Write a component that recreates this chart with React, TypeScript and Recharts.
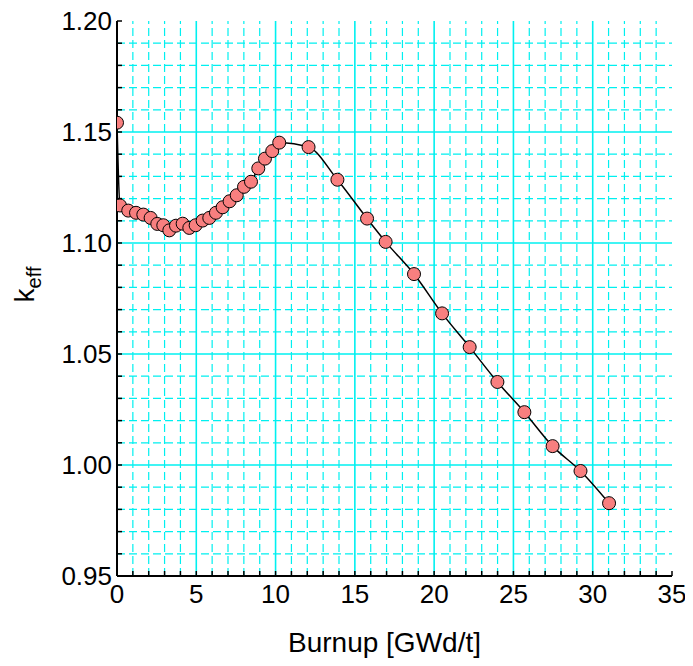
import React from "react";
import {
  LineChart,
  Line,
  XAxis,
  YAxis,
  ReferenceLine,
  Label,
} from "recharts";

const burnup = [
  0, 0.19, 0.71, 1.2, 1.66, 2.12, 2.54, 2.92, 3.3, 3.72, 4.14, 4.56, 4.96, 5.4,
  5.82, 6.24, 6.66, 7.1, 7.55, 8.01, 8.45, 8.91, 9.33, 9.79, 10.23, 12.08,
  13.9, 15.77, 16.94, 18.73, 20.5, 22.24, 23.99, 25.69, 27.47, 29.23, 31.03,
];
const keff = [
  1.1542, 1.1169, 1.1146, 1.1136, 1.1128, 1.1113, 1.1086, 1.108, 1.1057,
  1.1078, 1.1087, 1.1068, 1.108, 1.1101, 1.1113, 1.1136, 1.1161, 1.1188,
  1.1215, 1.1253, 1.1276, 1.1336, 1.138, 1.1414, 1.1452, 1.1432, 1.1285,
  1.111, 1.1005, 1.086, 1.0683, 1.0531, 1.0374, 1.0238, 1.0085, 0.9973,
  0.9828,
];

const xMajor = [0, 5, 10, 15, 20, 25, 30, 35];
const xMinor = [
  1, 2, 3, 4, 6, 7, 8, 9, 11, 12, 13, 14, 16, 17, 18, 19, 21, 22, 23, 24, 26,
  27, 28, 29, 31, 32, 33, 34,
];
const yMajor = [0.95, 1.0, 1.05, 1.1, 1.15, 1.2];
const yMinor = [
  0.96, 0.97, 0.98, 0.99, 1.01, 1.02, 1.03, 1.04, 1.06, 1.07, 1.08, 1.09,
  1.11, 1.12, 1.13, 1.14, 1.16, 1.17, 1.18, 1.19,
];

const xTicks = [...xMajor, ...xMinor].sort((a, b) => a - b);
const yTicks = [...yMajor, ...yMinor].sort((a, b) => a - b);

const data = burnup.map((b, i) => ({ burnup: b, keff: keff[i] }));

const FONT = "'Liberation Sans', Arial, sans-serif";
const GRID = "#00f0f0";

const tickStyle = { fontSize: 26, fill: "#000", fontFamily: FONT };

// rotated k_eff title, subscript shifted toward the plot
const YTitle = ({ viewBox }: any) => {
  const cx = viewBox.x + 34;
  const cy = viewBox.y + viewBox.height / 2 - 14;
  return (
    <text
      x={cx}
      y={cy}
      transform={`rotate(-90 ${cx} ${cy})`}
      textAnchor="middle"
      fontSize={28}
      fontFamily={FONT}
      fill="#000"
    >
      k
      <tspan fontSize={20} dy={7}>
        eff
      </tspan>
    </text>
  );
};

const XTitle = ({ viewBox }: any) => (
  <text
    x={viewBox.x + viewBox.width / 2 - 10}
    y={viewBox.y + 76}
    textAnchor="middle"
    fontSize={28}
    fontFamily={FONT}
    fill="#000"
  >
    Burnup [GWd/t]
  </text>
);

export default function App() {
  return (
    <div style={{ margin: -8 }}>
      <LineChart
        width={693}
        height={666}
        data={data}
        margin={{ top: 21, right: 21, bottom: 0, left: 0 }}
        style={{ fontFamily: FONT }}
      >
        <XAxis
          dataKey="burnup"
          type="number"
          domain={[0, 35]}
          ticks={xTicks}
          interval={0}
          allowDataOverflow
          height={90}
          tickSize={-5}
          tickMargin={14}
          tick={tickStyle}
          tickFormatter={(v: number) => (xMajor.includes(v) ? String(v) : "")}
          axisLine={{ stroke: "#000", strokeWidth: 2 }}
          tickLine={{ stroke: "#000", strokeWidth: 1.5 }}
        >
          <Label content={<XTitle />} />
        </XAxis>
        <XAxis
          xAxisId="top"
          orientation="top"
          dataKey="burnup"
          type="number"
          domain={[0, 35]}
          ticks={xTicks}
          interval={0}
          allowDataOverflow
          height={0}
          tickSize={-5}
          tick={false}
          axisLine={{ stroke: "#000", strokeWidth: 2 }}
          tickLine={{ stroke: "#000", strokeWidth: 1.5 }}
        />
        <YAxis
          type="number"
          domain={[0.95, 1.2]}
          ticks={yTicks}
          interval={0}
          allowDataOverflow
          width={117}
          tickSize={-5}
          tickMargin={10}
          tick={tickStyle}
          tickFormatter={(v: number) => (yMajor.includes(v) ? v.toFixed(2) : "")}
          axisLine={{ stroke: "#000", strokeWidth: 2 }}
          tickLine={{ stroke: "#000", strokeWidth: 1.5 }}
        >
          <Label content={<YTitle />} />
        </YAxis>
        <YAxis
          yAxisId="right"
          orientation="right"
          type="number"
          domain={[0.95, 1.2]}
          ticks={yTicks}
          interval={0}
          allowDataOverflow
          width={0}
          tickSize={-5}
          tick={false}
          axisLine={{ stroke: "#000", strokeWidth: 2 }}
          tickLine={{ stroke: "#000", strokeWidth: 1.5 }}
        />

        {xMinor.map((v) => (
          <ReferenceLine
            key={`xm-${v}`}
            x={v}
            stroke={GRID}
            strokeWidth={1.2}
            strokeDasharray="8 4"
          />
        ))}
        {yMinor.map((v) => (
          <ReferenceLine
            key={`ym-${v}`}
            y={v}
            stroke={GRID}
            strokeWidth={1.2}
            strokeDasharray="8 4"
          />
        ))}
        {xMajor.slice(1, -1).map((v) => (
          <ReferenceLine key={`xM-${v}`} x={v} stroke={GRID} strokeWidth={1.6} />
        ))}
        {yMajor.slice(1, -1).map((v) => (
          <ReferenceLine key={`yM-${v}`} y={v} stroke={GRID} strokeWidth={1.6} />
        ))}

        <Line
          xAxisId="top"
          yAxisId="right"
          dataKey="keff"
          stroke="none"
          dot={false}
          activeDot={false}
          isAnimationActive={false}
        />
        <Line
          dataKey="keff"
          type="monotone"
          stroke="#000"
          strokeWidth={1.5}
          dot={{ r: 6.5, fill: "#f87f7f", stroke: "#000", strokeWidth: 1 }}
          activeDot={false}
          isAnimationActive={false}
        />
      </LineChart>
    </div>
  );
}
